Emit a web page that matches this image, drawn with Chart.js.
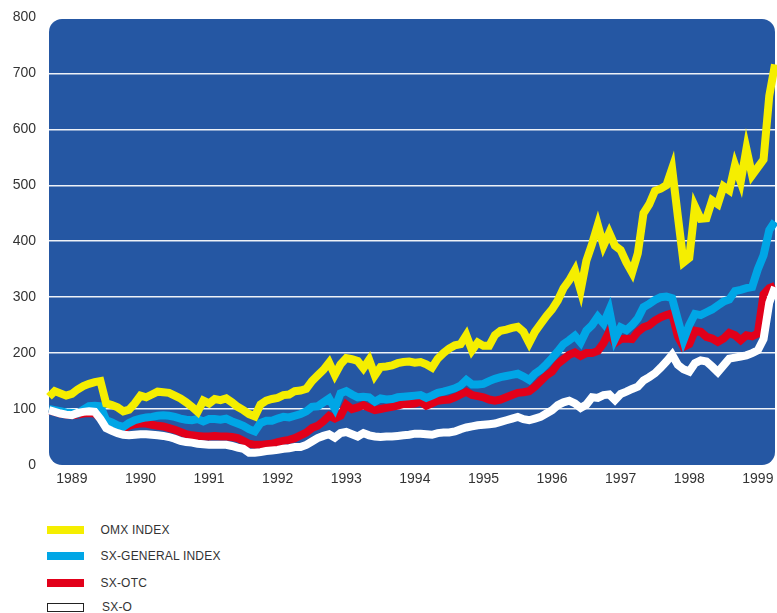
<!DOCTYPE html>
<html>
<head>
<meta charset="utf-8">
<script src="https://cdn.jsdelivr.net/npm/chart.js@4.4.1/dist/chart.umd.min.js"></script>
<style>
  html, body { margin:0; padding:0; background:#fff; width:777px; height:613px; overflow:hidden; }
  #c { position:absolute; left:0; top:0; }
  .sw { position:absolute; width:37px; height:8px; box-sizing:border-box; }
  .lb { position:absolute; white-space:nowrap; font-family:"Liberation Sans", Arial, sans-serif;
        font-size:12px; line-height:14px; color:#333; letter-spacing:0.2px; }
</style>
</head>
<body>
<canvas id="c" width="777" height="500"></canvas>
<div id="legend"></div>
<script>
// ---- data ----
const yearLabels = ['1989','1990','1991','1992','1993','1994','1995','1996','1997','1998','1999'];
// monthly categories, Aug 1989 .. Mar 2000 (year label shown at each December)
const months = [];
(function(){
  let y = 1989, m = 8;
  for (let k = 0; k < 128; k++) {
    months.push(y + '-' + String(m).padStart(2,'0'));
    m++; if (m > 12) { m = 1; y++; }
  }
})();

const seriesNames = ['OMX INDEX','SX-GENERAL INDEX','SX-OTC','SX-O'];

const omx = [
  122,132,128,124,
  127,135,141,145,148,150,110,107,103,96,99,110,
  124,121,126,131,130,129,124,119,112,104,95,115,
  110,118,116,119,112,104,98,91,87,108,115,118,
  120,125,126,132,133,136,150,160,170,183,161,180,
  191,189,186,173,188,160,175,176,178,182,184,185,
  183,184,180,174,190,200,208,214,216,232,205,219,
  213,213,232,240,242,245,247,238,218,238,252,266,
  278,294,316,330,348,312,365,395,429,392,415,392,
  384,362,344,378,450,466,490,494,500,530,445,362,
  370,462,440,441,473,466,498,491,536,506,565,518,
  532,546,660,716
];
const sxGeneral = [
  100,98,96,94,
  93,92,99,105,106,105,80,76,71,68,75,80,
  83,85,86,88,89,88,86,83,81,80,82,78,
  82,82,81,83,78,74,70,64,60,75,79,79,
  83,86,85,88,91,96,104,105,112,119,101,128,
  132,126,121,122,121,113,119,117,118,121,122,123,
  124,125,120,124,129,131,134,137,142,152,144,144,
  145,150,154,157,159,161,163,158,152,163,170,180,
  191,203,216,223,231,219,240,250,265,253,277,225,
  246,241,250,262,282,288,295,300,301,298,260,223,
  250,270,268,273,278,285,292,296,311,313,316,318,
  350,375,420,435
];
const sxOtc = [
  98,95,92,90,
  89,90,92,93,92,84,72,64,62,65,70,73,
  74,74,72,70,69,66,63,59,55,53,52,51,
  51,52,51,51,50,48,43,38,36,36,37,38,
  41,43,45,48,53,58,66,70,78,88,83,88,
  108,100,103,107,102,98,100,102,104,106,109,109,
  110,113,106,110,115,116,117,121,126,131,125,123,
  121,117,115,117,121,125,129,130,132,140,150,160,
  167,181,189,197,201,195,200,200,204,218,238,218,
  225,226,225,238,246,250,258,264,268,271,230,211,
  216,240,238,229,226,220,226,236,232,223,232,230,
  235,305,316,320
];
const sxO = [
  98,95,92,90,
  89,93,95,96,95,82,66,61,57,54,53,54,
  55,55,54,53,52,50,47,43,41,40,38,37,
  36,36,36,36,34,31,29,22,22,23,25,26,
  27,29,30,32,32,36,42,48,52,55,49,57,
  59,55,51,57,53,51,50,51,51,52,53,54,
  56,56,55,54,57,58,58,60,64,67,69,71,
  72,73,74,77,80,83,86,82,80,83,86,92,
  98,107,112,115,110,102,108,121,120,125,126,116,
  127,131,136,140,151,157,164,174,185,197,179,171,
  167,182,187,185,176,166,178,190,192,194,196,200,
  205,225,290,318
];

// ---- styles ----
const COLORS = ['#f5ee00', '#00a6e6', '#e2001a', '#ffffff'];
const BG = '#2557a3';
const FONT = '"Liberation Sans", Arial, sans-serif';

const bgPlugin = {
  id: 'roundedBg',
  beforeDraw(chart) {
    const { ctx, chartArea: a } = chart;
    const x = a.left, y = a.top + 1.6, w = a.right - a.left, h = a.bottom - y, r = 13;
    ctx.save();
    ctx.fillStyle = BG;
    ctx.beginPath();
    ctx.moveTo(x + r, y);
    ctx.lineTo(x + w - r, y);
    ctx.arcTo(x + w, y, x + w, y + r, r);
    ctx.lineTo(x + w, y + h - r);
    ctx.arcTo(x + w, y + h, x + w - r, y + h, r);
    ctx.lineTo(x + r, y + h);
    ctx.arcTo(x, y + h, x, y + h - r, r);
    ctx.lineTo(x, y + r);
    ctx.arcTo(x, y, x + r, y, r);
    ctx.closePath();
    ctx.fill();
    ctx.restore();
  }
};

const seriesData = [omx, sxGeneral, sxOtc, sxO];
const orders = [0, 2, 3, 1];

function noAxisPadding(axis) {
  axis.paddingTop = 0; axis.paddingBottom = 0;
  axis.paddingLeft = 0; axis.paddingRight = 0;
}

new Chart(document.getElementById('c'), {
  type: 'line',
  data: {
    labels: months,
    datasets: seriesData.map((d, i) => ({
      label: seriesNames[i],
      data: d,
      borderColor: COLORS[i],
      backgroundColor: COLORS[i],
      order: orders[i]
    }))
  },
  options: {
    responsive: false,
    animation: false,
    layout: { autoPadding: false, padding: { left: 0, right: 2, top: 17.4, bottom: 0 } },
    plugins: { legend: { display: false }, tooltip: { enabled: false } },
    elements: {
      line: { borderWidth: 8, tension: 0, borderJoinStyle: 'miter', borderCapStyle: 'butt', fill: false },
      point: { radius: 0, hoverRadius: 0 }
    },
    scales: {
      x: {
        type: 'category',
        offset: false,
        grid: { display: false, drawTicks: false },
        border: { display: false },
        ticks: {
          autoSkip: false, maxRotation: 0, minRotation: 0, padding: 6,
          color: '#333', font: { family: FONT, size: 14 },
          callback: function (v) {
            const lab = this.getLabelForValue(v);
            const yr = lab.slice(0, 4);
            return (lab.endsWith('-12') && yearLabels.includes(yr)) ? yr : '';
          }
        },
        afterFit(axis) { axis.height = 35; noAxisPadding(axis); }
      },
      y: {
        min: 0, max: 800,
        grid: {
          drawTicks: false,
          lineWidth: 1.5,
          color: c => (c.tick && (c.tick.value === 0 || c.tick.value === 800)) ? 'rgba(0,0,0,0)' : 'rgba(255,255,255,0.92)'
        },
        border: { display: false },
        ticks: { stepSize: 100, padding: 13, color: '#333', font: { family: FONT, size: 14 } },
        afterFit(axis) { axis.width = 49; noAxisPadding(axis); }
      }
    }
  },
  plugins: [bgPlugin]
});

// ---- legend (HTML text) ----
const legend = document.getElementById('legend');
const rowsY = [529.5, 556, 582.5, 607];
seriesNames.forEach((name, i) => {
  const sw = document.createElement('div');
  sw.className = 'sw';
  sw.style.left = '47px';
  sw.style.top = (rowsY[i] - 4) + 'px';
  sw.style.background = COLORS[i];
  if (i === 3) { sw.style.border = '1px solid #222'; sw.style.height = '9px'; }
  legend.appendChild(sw);
  const lb = document.createElement('div');
  lb.className = 'lb';
  lb.style.left = (i === 3 ? 102 : 100.5) + 'px';
  lb.style.top = (rowsY[i] - 7) + 'px';
  lb.textContent = name;
  legend.appendChild(lb);
});
</script>
</body>
</html>
